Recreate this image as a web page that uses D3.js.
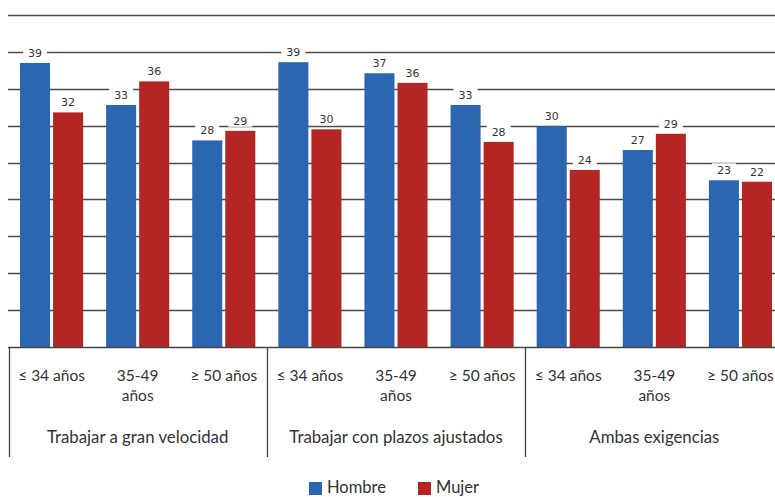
<!DOCTYPE html>
<html><head><meta charset="utf-8">
<script src="https://cdn.jsdelivr.net/npm/d3@7"></script>
<style>body{margin:0;background:#fff}svg{display:block}</style>
</head><body>
<svg id="c" width="775" height="497"></svg>
<script>
const groups = ["Trabajar a gran velocidad","Trabajar con plazos ajustados","Ambas exigencias"];
const ages = ["≤ 34 años","35-49 años","≥ 50 años"];
const series = ["Hombre","Mujer"];
const hombre = [38.5,32.8,28.0, 38.6,37.1,32.8, 29.9,26.7,22.6];
const mujer  = [31.8,36.0,29.3, 29.5,35.8,27.8, 24.0,28.9,22.4];
const yTicks = [0,5,10,15,20,25,30,35,40,45];
const colors = ["#2c66b1","#b32624"];

(function(){
const svg = d3.select("#c");
const plotLeft = 8.5, plotRight = 783.5, plotTop = 15, base = 347;
const y = d3.scaleLinear().domain([0,45]).range([base, plotTop]);
const x0 = d3.scaleBand().domain(groups).range([plotLeft, plotRight]);
const x1 = d3.scaleBand().domain(ages).range([0, x0.bandwidth()]);
const x2 = d3.scaleBand().domain(series).range([0, x1.bandwidth()]).paddingInner(3/33).paddingOuter(0.348);

// gridlines
svg.append("g").selectAll("line").data(yTicks.slice(1)).join("line")
  .attr("x1", 8).attr("x2", 775).attr("y1", d=>Math.round(y(d))+0.5).attr("y2", d=>Math.round(y(d))+0.5)
  .attr("stroke", "#4a4a4a").attr("stroke-width", 1.6);

const data = [];
groups.forEach((g,gi)=>ages.forEach((a,ai)=>series.forEach((s,si)=>{
  const v = (si===0?hombre:mujer)[gi*3+ai];
  data.push({g,a,s,si,v,x:x0(g)+x1(a)+x2(s)});
})));

svg.append("g").selectAll("rect").data(data).join("rect")
  .attr("x", d=>d.x).attr("width", x2.bandwidth())
  .attr("y", d=>y(d.v)).attr("height", d=>base - y(d.v))
  .attr("fill", d=>colors[d.si]);

// labels with white backgrounds
const lg = svg.append("g");
lg.selectAll("rect").data(data).join("rect")
  .attr("x", d=>d.x + x2.bandwidth()/2 - 12).attr("width", 24)
  .attr("y", d=>y(d.v) - 17).attr("height", 13).attr("fill", "#fff");
lg.selectAll("text").data(data).join("text")
  .attr("x", d=>d.x + x2.bandwidth()/2).attr("y", d=>y(d.v) - 6)
  .attr("text-anchor", "middle").attr("font-family", "DejaVu Sans").attr("font-size", 11)
  .attr("fill", "#333").text(d=>Math.round(d.v));

// x axis frame
const ax = svg.append("g").attr("stroke", "#444").attr("stroke-width", 1.3);
ax.append("line").attr("x1", 8).attr("x2", 775).attr("y1", base+0.5).attr("y2", base+0.5);
groups.forEach(g=>{
  const xx = Math.round(x0(g))+0.5;
  ax.append("line").attr("x1", xx).attr("x2", xx).attr("y1", base).attr("y2", 457);
});

const font = "Lato";
const tg = svg.append("g").attr("font-family", font).attr("fill", "#333").attr("text-anchor", "middle");
groups.forEach(g=>{
  ages.forEach(a=>{
    const cx = x0(g)+x1(a)+x1.bandwidth()/2;
    const lines = a==="35-49 años" ? ["35-49","años"] : [a];
    lines.forEach((l,i)=>tg.append("text").attr("x", cx).attr("y", 381 + i*20).attr("font-size", 15.5).text(l));
  });
  tg.append("text").attr("x", x0(g)+x0.bandwidth()/2).attr("y", 443).attr("font-size", 16.8).text(g);
});

// legend
const leg = svg.append("g").attr("font-family", font).attr("fill", "#333");
const legX = [309, 418];
series.forEach((s,i)=>{
  leg.append("rect").attr("x", legX[i]).attr("y", 482).attr("width", 13).attr("height", 13).attr("fill", colors[i]);
  leg.append("text").attr("x", legX[i]+18).attr("y", 493).attr("font-size", 16.5).text(s);
});
})();
</script>
</body></html>
